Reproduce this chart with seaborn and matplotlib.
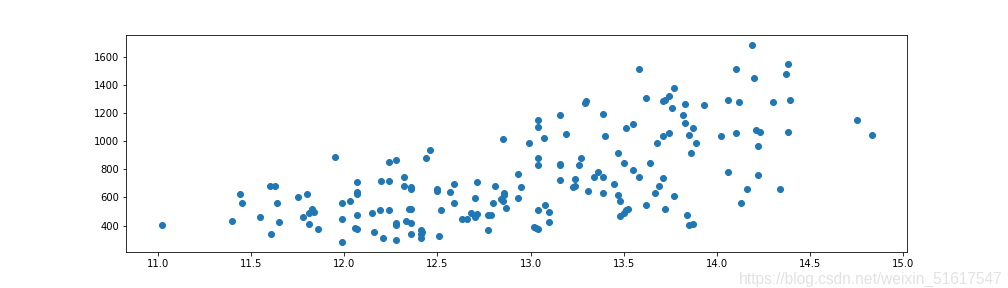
import matplotlib
matplotlib.use("Agg")
import matplotlib.pyplot as plt
import seaborn as sns
import pandas as pd

x_vals = [
    11.02, 11.40, 11.44, 11.45, 11.55, 11.60, 11.63, 11.64, 11.61, 11.65,
    11.75, 11.80, 11.78, 11.81, 11.83, 11.84, 11.81, 11.86, 11.95, 11.99,
    12.03, 11.99, 11.99, 12.07, 12.07, 12.07, 12.07, 12.06, 12.07, 12.15,
    12.16, 12.19, 12.21, 12.20, 12.24, 12.28, 12.24, 12.24, 12.28, 12.28,
    12.28, 12.32, 12.32, 12.36, 12.36, 12.33, 12.36, 12.35, 12.36, 12.36,
    12.41, 12.42, 12.41, 12.41, 12.44, 12.46, 12.50, 12.50, 12.51, 12.52,
    12.57, 12.59, 12.59, 12.63, 12.66, 12.68, 12.70, 12.71, 12.70, 12.71,
    12.77, 12.79, 12.77, 12.81, 12.80, 12.84, 12.85, 12.86, 12.86, 12.87,
    12.85, 12.93, 12.95, 12.93, 12.99, 13.04, 13.04, 13.07, 13.04, 13.04,
    13.04, 13.08, 13.10, 13.10, 13.02, 13.03, 13.04, 13.16, 13.19, 13.16,
    13.16, 13.16, 13.24, 13.23, 13.24, 13.27, 13.26, 13.29, 13.30, 13.31,
    13.34, 13.36, 13.39, 13.40, 13.39, 13.39, 13.45, 13.47, 13.50, 13.47,
    13.48, 13.48, 13.50, 13.51, 13.52, 13.51, 13.55, 13.55, 13.58, 13.58,
    13.62, 13.62, 13.64, 13.71, 13.69, 13.67, 13.72, 13.77, 13.84, 13.85,
    13.87, 13.68, 13.71, 13.74, 13.71, 13.72, 13.74, 13.77, 13.76, 13.83,
    13.82, 13.83, 13.87, 13.85, 13.89, 13.86, 13.93, 14.19, 14.10, 14.20,
    14.38, 14.37, 14.06, 14.12, 14.30, 14.39, 14.02, 14.10, 14.21, 14.23,
    14.38, 14.22, 14.06, 14.22, 14.16, 14.34, 14.13, 14.75, 14.83,
]
y_vals = [
    407, 435, 627, 563, 464, 683, 683, 563, 343, 428,
    605, 627, 464, 492, 520, 499, 414, 379, 889, 563,
    577, 450, 280, 712, 640, 625, 478, 386, 379, 492,
    357, 513, 315, 719, 854, 868, 719, 513, 421, 407,
    294, 747, 683, 676, 662, 435, 421, 520, 520, 343,
    367, 355, 343, 315, 882, 939, 662, 648, 329, 513,
    641, 698, 563, 450, 450, 492, 464, 485, 598, 712,
    473, 478, 372, 683, 563, 591, 572, 634, 620, 527,
    1017, 769, 676, 598, 988, 1153, 1102, 1024, 882, 832,
    513, 549, 499, 428, 393, 386, 379, 1187, 1052, 839,
    832, 726, 733, 676, 683, 882, 832, 1272, 1286, 648,
    747, 783, 1194, 1038, 747, 634, 698, 917, 846, 620,
    577, 471, 492, 513, 520, 1095, 1123, 797, 747, 1513,
    549, 1307, 846, 740, 683, 634, 520, 613, 478, 407,
    414, 988, 1038, 1059, 1286, 1293, 1321, 1378, 1236, 1265,
    1187, 1130, 1095, 1045, 988, 917, 1258, 1683, 1513, 1449,
    1548, 1477, 1293, 1279, 1279, 1293, 1038, 1059, 1080, 1066,
    1066, 967, 783, 761, 662, 662, 563, 1151, 1045,
]

df = pd.DataFrame({"x": x_vals, "y": y_vals})

fig = plt.figure(figsize=(14, 4), dpi=72)
ax = fig.add_axes([0.125, 0.124, 0.775, 0.753])
sns.scatterplot(data=df, x="x", y="y", ax=ax, color="#1f77b4", s=36,
                edgecolor="#1f77b4", linewidth=1.0, legend=False)
ax.set_xlabel("")
ax.set_ylabel("")
ax.set_xticks([11.0, 11.5, 12.0, 12.5, 13.0, 13.5, 14.0, 14.5, 15.0])
ax.set_yticks([400, 600, 800, 1000, 1200, 1400, 1600])

fig.text(1003 / 1008, 1 - 279 / 288, "https://blog.csdn.net/weixin_51617547",
         ha="right", va="center", fontsize=15.5, color="#e2e2e2",
         family="Liberation Sans")

fig.savefig("out.png", dpi=72)
